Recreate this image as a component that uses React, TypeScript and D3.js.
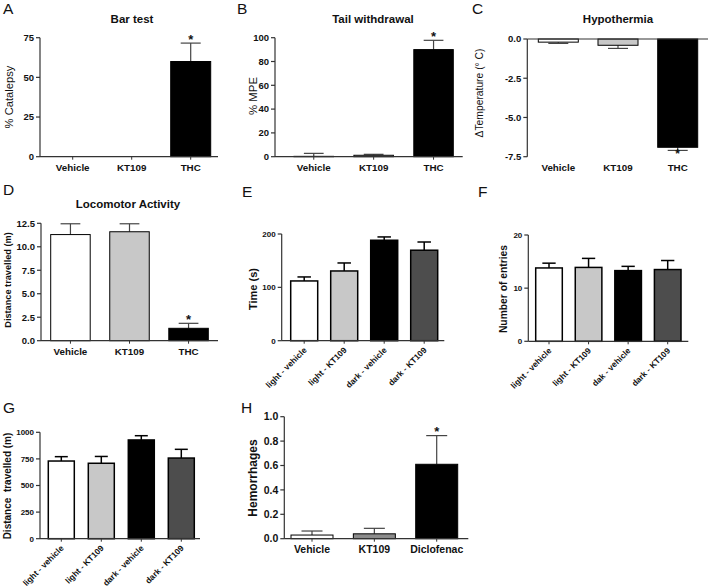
import React from "react";
import * as d3 from "d3";

// ---------- DATA ----------
const catsABCD = ["Vehicle", "KT109", "THC"];
const barTestMean = [0, 0, 60];
const barTestSem = [0, 0, 11.6];
const barTestTicks = [0, 25, 50, 75];

const tailMean = [0.3, 1.2, 90];
const tailSem = [2.5, 0.8, 7.8];
const tailTicks = [0, 20, 40, 60, 80, 100];

const hypoMean = [-0.2, -0.4, -6.9];
const hypoSem = [0.08, 0.2, 0.2];
const hypoTicks = [0, -2.5, -5, -7.5];

const locoMean = [11.3, 11.6, 1.32];
const locoSem = [1.15, 0.85, 0.53];
const locoTicks = [0, 2.5, 5, 7.5, 10, 12.5];

const ldCatsE = ["light - vehicle", "light - KT109", "dark - vehicle", "dark - KT109"];
const ldCatsF = ["light - vehicle", "light - KT109", "dak - vehicle", "dark - KT109"];
const ldCatsG = ["light - vehicle", "light - KT109", "dark - vehicle", "dark - KT109"];

const timeMean = [112, 130.7, 188.3, 169.6];
const timeSem = [7.5, 15, 6.2, 15.4];
const timeTicks = [0, 100, 200];

const entriesMean = [13.8, 13.9, 13.3, 13.5];
const entriesSem = [0.9, 1.7, 0.8, 1.7];
const entriesTicks = [0, 10, 20];

const distMean = [730, 709, 928, 758];
const distSem = [41, 64, 40, 82];
const distTicks = [0, 250, 500, 750, 1000];

const hemoCats = ["Vehicle", "KT109", "Diclofenac"];
const hemoMean = [0.03, 0.04, 0.61];
const hemoSem = [0.033, 0.045, 0.235];
const hemoTicks = [0, 0.2, 0.4, 0.6, 0.8, 1.0];

const starsABCD = [false, false, true];
const starsH = [false, false, true];
const starsNone = [false, false, false, false];

const col3 = ["#ffffff", "#c8c8c8", "#000000"];
const col3H = ["#ffffff", "#8c8c8c", "#000000"];
const col4 = ["#ffffff", "#c8c8c8", "#000000", "#4d4d4d"];

const FONT = "'Liberation Sans', Arial, Helvetica, sans-serif";
const fmtInt = (v: number) => String(v);
const fmt1 = (v: number) => v.toFixed(1);

type Cfg = {
  letter: string; lx: number; ly: number;
  title?: string; tx?: number; ty?: number;
  ylabel: string; ylx: number; yly: number; ylSize: number; ylBold: boolean;
  axisX: number; axisEnd: number; yTop: number; yBottom: number;
  domain: [number, number]; ticks: number[]; fmt: (v: number) => string;
  tickSize: number;
  cats: string[]; mean: number[]; sem: number[]; colors: string[]; stars: boolean[];
  barL: number; barR: number; bw: number;
  rotated: boolean; xlSize: number; xlY: number;
  errColor: string; errW: number; barStroke: number;
};

const Panel = ({ c }: { c: Cfg }) => {
  const y = d3.scaleLinear().domain(c.domain).range([c.yBottom, c.yTop]);
  const n = c.cats.length;
  const span = c.barR - c.barL;
  const p = (span - c.bw * n) / (span - c.bw);
  const x = d3.scaleBand<string>().domain(c.cats).range([c.barL, c.barR]).paddingInner(p).paddingOuter(0);
  const bw = x.bandwidth();
  const y0 = y(0);
  return (
    <g fontFamily={FONT}>
      <text x={c.lx} y={c.ly} fontSize={15.5} fill="#111">{c.letter}</text>
      {c.title && (
        <text x={c.tx} y={c.ty} fontSize={11.5} fontWeight="bold" textAnchor="middle" fill="#111">{c.title}</text>
      )}
      <text
        transform={`translate(${c.ylx},${c.yly}) rotate(-90)`}
        fontSize={c.ylSize}
        fontWeight={c.ylBold ? "bold" : "normal"}
        textAnchor="middle"
        dy="0.35em"
        fill="#111"
        style={{ whiteSpace: "pre" }}
      >
        {c.ylabel}
      </text>
      {/* bars */}
      {c.cats.map((cat, i) => {
        const m = c.mean[i];
        const top = Math.min(y(m), y0);
        const h = Math.abs(y(m) - y0);
        const bx = x(cat) as number;
        const cx = bx + bw / 2;
        const dir = m >= 0 ? 1 : -1;
        const e = m + dir * c.sem[i];
        const cap = bw / 4;
        return (
          <g key={cat}>
            {c.sem[i] > 0 && (
              <g stroke={c.errColor} strokeWidth={c.errW}>
                <line x1={cx} x2={cx} y1={y(m)} y2={y(e)} />
                <line x1={cx - cap} x2={cx + cap} y1={y(e)} y2={y(e)} />
              </g>
            )}
            {h > 0 && (
              <rect x={bx} y={top} width={bw} height={h} fill={c.colors[i]} stroke="#000" strokeWidth={c.barStroke} />
            )}
            {c.stars[i] && (
              <text
                x={cx}
                y={dir > 0 ? y(e) + 0.5 : y(e) + 8}
                fontSize={dir > 0 ? 13 : 12}
                fontWeight="bold"
                textAnchor="middle"
                fill="#111"
              >
                *
              </text>
            )}
          </g>
        );
      })}
      {/* y axis */}
      <line x1={c.axisX} x2={c.axisX} y1={c.yTop} y2={c.yBottom} stroke="#333" strokeWidth={1.2} />
      {c.ticks.map((t) => (
        <g key={t}>
          <line x1={c.axisX - 4} x2={c.axisX} y1={y(t)} y2={y(t)} stroke="#333" strokeWidth={1.2} />
          <text x={c.axisX - 6} y={y(t)} dy="0.35em" fontSize={c.tickSize} fontWeight="bold" textAnchor="end" fill="#111">
            {c.fmt(t)}
          </text>
        </g>
      ))}
      {/* x axis */}
      <line x1={c.axisX} x2={c.axisEnd} y1={y0} y2={y0} stroke="#333" strokeWidth={1.2} />
      {c.cats.map((cat) => {
        const cx = (x(cat) as number) + bw / 2;
        return (
          <g key={"xl" + cat}>
            {c.domain[0] >= 0 && (
              <line x1={cx} x2={cx} y1={y0} y2={y0 + 3} stroke="#333" strokeWidth={1} />
            )}
            {c.rotated ? (
              <text
                transform={`translate(${cx + 3},${y0 + 10}) rotate(-45)`}
                fontSize={c.xlSize}
                fontWeight="bold"
                textAnchor="end"
                fill="#111"
              >
                {cat}
              </text>
            ) : (
              <text x={cx} y={c.xlY} fontSize={c.xlSize} fontWeight="bold" textAnchor="middle" fill="#111">
                {cat}
              </text>
            )}
          </g>
        );
      })}
    </g>
  );
};

const panels: Cfg[] = [
  {
    letter: "A", lx: 3, ly: 14, title: "Bar test", tx: 132, ty: 23,
    ylabel: "% Catalepsy", ylx: 9, yly: 97, ylSize: 11.2, ylBold: false,
    axisX: 40, axisEnd: 218, yTop: 37.7, yBottom: 156.7, domain: [0, 75], ticks: barTestTicks, fmt: fmtInt, tickSize: 9.5,
    cats: catsABCD, mean: barTestMean, sem: barTestSem, colors: col3, stars: starsABCD,
    barL: 52.7, barR: 210.7, bw: 40, rotated: false, xlSize: 9.8, xlY: 170.5,
    errColor: "#444", errW: 1.2, barStroke: 1,
  },
  {
    letter: "B", lx: 237, ly: 14, title: "Tail withdrawal", tx: 373, ty: 23,
    ylabel: "% MPE", ylx: 253, yly: 96, ylSize: 11.4, ylBold: false,
    axisX: 275, axisEnd: 462.7, yTop: 37.7, yBottom: 156.7, domain: [0, 100], ticks: tailTicks, fmt: fmtInt, tickSize: 9.5,
    cats: catsABCD, mean: tailMean, sem: tailSem, colors: col3, stars: starsABCD,
    barL: 294, barR: 453.3, bw: 39.5, rotated: false, xlSize: 9.8, xlY: 170.5,
    errColor: "#444", errW: 1.2, barStroke: 1,
  },
  {
    letter: "C", lx: 472, ly: 14, title: "Hypothermia", tx: 618, ty: 23,
    ylabel: "\u0394Temperature (\u00b0 C)", ylx: 479, yly: 93, ylSize: 10.3, ylBold: false,
    axisX: 527.3, axisEnd: 708, yTop: 39, yBottom: 156.7, domain: [-7.5, 0], ticks: hypoTicks, fmt: fmt1, tickSize: 9.5,
    cats: catsABCD, mean: hypoMean, sem: hypoSem, colors: col3, stars: starsABCD,
    barL: 538.3, barR: 697.7, bw: 40, rotated: false, xlSize: 9.8, xlY: 171,
    errColor: "#444", errW: 1.2, barStroke: 1,
  },
  {
    letter: "D", lx: 3, ly: 195, title: "Locomotor Activity", tx: 128, ty: 208,
    ylabel: "Distance travelled (m)", ylx: 8, yly: 280, ylSize: 9.2, ylBold: true,
    axisX: 41, axisEnd: 218, yTop: 223.3, yBottom: 340.7, domain: [0, 12.5], ticks: locoTicks, fmt: fmt1, tickSize: 9.5,
    cats: catsABCD, mean: locoMean, sem: locoSem, colors: col3, stars: starsABCD,
    barL: 50.7, barR: 208.3, bw: 39.5, rotated: false, xlSize: 9.8, xlY: 354.5,
    errColor: "#444", errW: 1.2, barStroke: 1,
  },
  {
    letter: "E", lx: 242, ly: 197,
    ylabel: "Time (s)", ylx: 253, yly: 289, ylSize: 11, ylBold: true,
    axisX: 281.7, axisEnd: 444.3, yTop: 234, yBottom: 340.7, domain: [0, 200], ticks: timeTicks, fmt: fmtInt, tickSize: 8,
    cats: ldCatsE, mean: timeMean, sem: timeSem, colors: col4, stars: starsNone,
    barL: 290.7, barR: 437.7, bw: 27, rotated: true, xlSize: 8.4, xlY: 0,
    errColor: "#000", errW: 1.5, barStroke: 1.5,
  },
  {
    letter: "F", lx: 478, ly: 197,
    ylabel: "Number of entries", ylx: 503, yly: 289, ylSize: 10.3, ylBold: true,
    axisX: 528.3, axisEnd: 688.3, yTop: 235, yBottom: 341.3, domain: [0, 20], ticks: entriesTicks, fmt: fmtInt, tickSize: 8,
    cats: ldCatsF, mean: entriesMean, sem: entriesSem, colors: col4, stars: starsNone,
    barL: 535.7, barR: 681, bw: 26.6, rotated: true, xlSize: 8.4, xlY: 0,
    errColor: "#000", errW: 1.5, barStroke: 1.5,
  },
  {
    letter: "G", lx: 3, ly: 413,
    ylabel: "Distance  travelled (m)", ylx: 7, yly: 486, ylSize: 10, ylBold: true,
    axisX: 40, axisEnd: 200, yTop: 432.3, yBottom: 538.7, domain: [0, 1000], ticks: distTicks, fmt: fmtInt, tickSize: 8,
    cats: ldCatsG, mean: distMean, sem: distSem, colors: col4, stars: starsNone,
    barL: 48.3, barR: 194.3, bw: 26, rotated: true, xlSize: 8.4, xlY: 0,
    errColor: "#000", errW: 1.5, barStroke: 1.5,
  },
  {
    letter: "H", lx: 241, ly: 413,
    ylabel: "Hemorrhages", ylx: 253, yly: 478, ylSize: 12, ylBold: true,
    axisX: 284.3, axisEnd: 468.3, yTop: 416.7, yBottom: 538.7, domain: [0, 1], ticks: hemoTicks, fmt: fmt1, tickSize: 10.5,
    cats: hemoCats, mean: hemoMean, sem: hemoSem, colors: col3H, stars: starsH,
    barL: 291, barR: 457.7, bw: 42, rotated: false, xlSize: 10.5, xlY: 553,
    errColor: "#444", errW: 1.2, barStroke: 1,
  },
];

export default function App() {
  return (
    <svg
      width={709}
      height={588}
      viewBox="0 0 709 588"
      style={{ position: "absolute", left: 0, top: 0, background: "#fff" }}
    >
      <rect width={709} height={588} fill="#fff" />
      {panels.map((c) => (
        <Panel key={c.letter} c={c} />
      ))}
    </svg>
  );
}
